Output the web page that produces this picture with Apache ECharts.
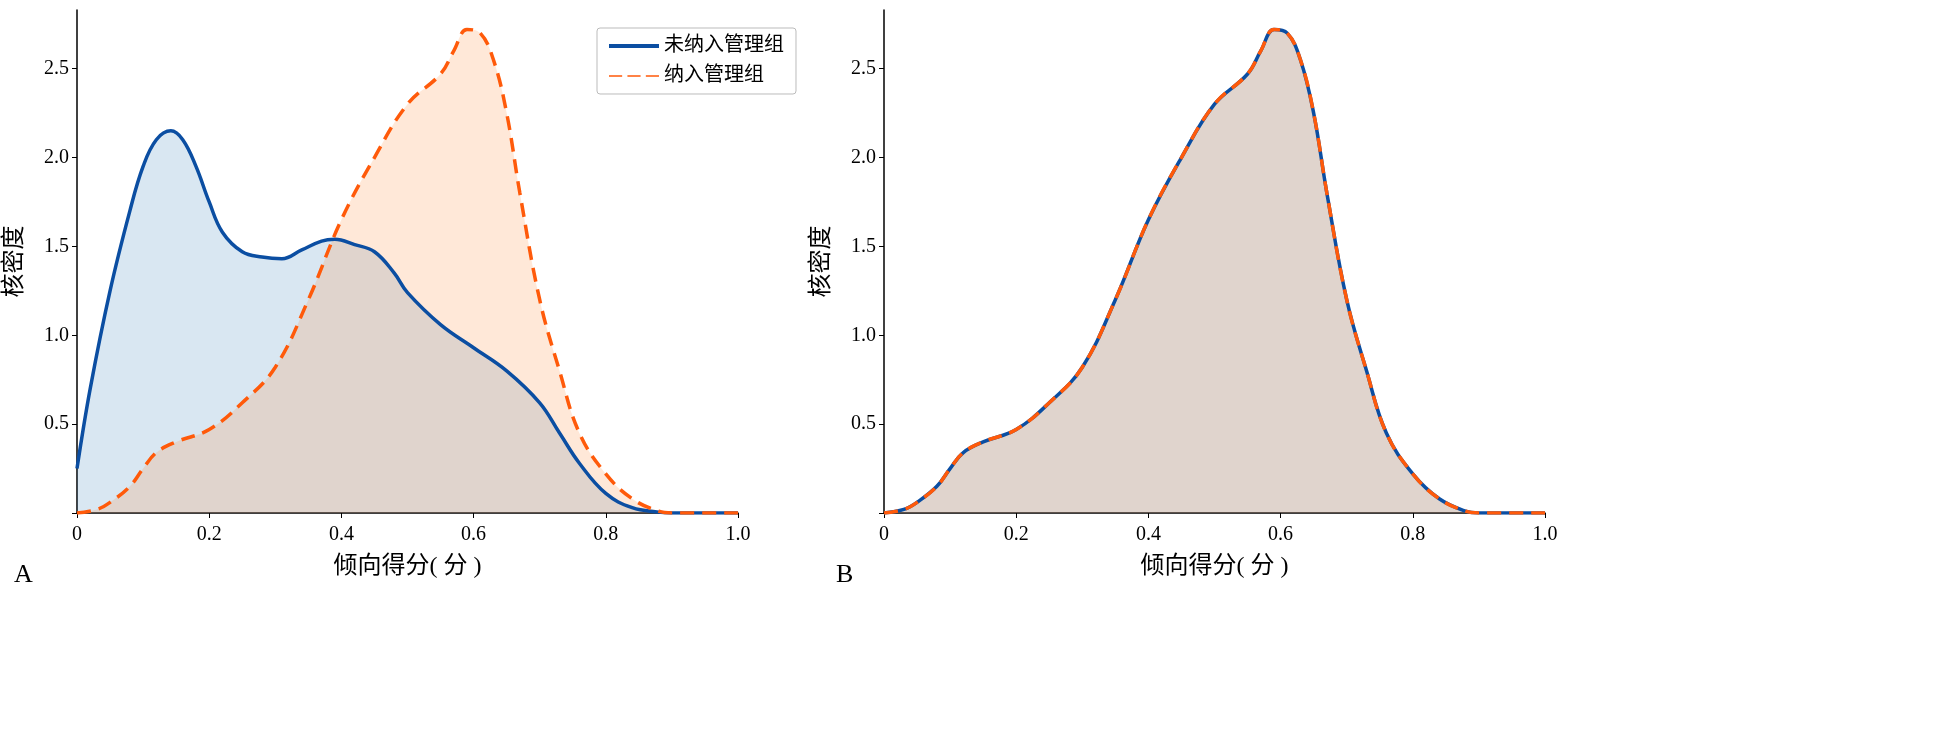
<!DOCTYPE html>
<html>
<head>
<meta charset="utf-8">
<script src="https://cdn.jsdelivr.net/npm/echarts@6/dist/echarts.min.js"></script>
<style>
  * { margin: 0; padding: 0 }
  html, body { width: 100%; height: 100%; background: #fff; }
  #main { width: 1952px; height: 739px; }
</style>
</head>
<body>
<div id="main"></div>
<script>
// 倾向得分 -> 核密度
var unmanaged = [
  [0, 0.25], [0.02, 0.7], [0.05, 1.25], [0.08, 1.7], [0.1, 1.95], [0.12, 2.1], [0.142, 2.15],
  [0.16, 2.1], [0.18, 1.95], [0.2, 1.75], [0.22, 1.58], [0.25, 1.47], [0.28, 1.44], [0.31, 1.43],
  [0.34, 1.48], [0.37, 1.53], [0.39, 1.54], [0.42, 1.51], [0.45, 1.47], [0.48, 1.35], [0.5, 1.24],
  [0.55, 1.06], [0.6, 0.93], [0.65, 0.8], [0.7, 0.62], [0.73, 0.45], [0.76, 0.28], [0.8, 0.11],
  [0.84, 0.03], [0.88, 0.005], [0.9, 0], [1.0, 0]
];
var managed = [
  [0, 0], [0.03, 0.02], [0.05, 0.06], [0.08, 0.15], [0.1, 0.25], [0.12, 0.34], [0.15, 0.4],
  [0.2, 0.47], [0.25, 0.62], [0.3, 0.82], [0.35, 1.2], [0.4, 1.65], [0.45, 2.0], [0.5, 2.3],
  [0.55, 2.47], [0.57, 2.6], [0.59, 2.72], [0.61, 2.7], [0.63, 2.55], [0.65, 2.25], [0.67, 1.8],
  [0.7, 1.2], [0.73, 0.8], [0.76, 0.45], [0.8, 0.22], [0.84, 0.08], [0.88, 0.01], [0.9, 0], [1.0, 0]
];
var xTicks = ['0', '0.2', '0.4', '0.6', '0.8', '1.0'];
var yTicks = ['', '0.5', '1.0', '1.5', '2.0', '2.5'];

var BLUE = '#0b4ea2', ORANGE = '#ff5a0a';
var font = "'Liberation Serif', 'Noto Sans CJK SC', serif";

function xAxis(i) {
  return {
    type: 'value', gridIndex: i, min: 0, max: 1, interval: 0.2,
    name: '倾向得分( 分 )', nameLocation: 'middle', nameGap: 42,
    nameTextStyle: { fontSize: 24, color: '#000', fontFamily: font },
    axisLine: { lineStyle: { color: '#000', width: 1.5 } },
    axisTick: { lineStyle: { color: '#000' }, length: 5 },
    axisLabel: { fontSize: 20, color: '#000', fontFamily: font, margin: 12,
      formatter: function (v) { return xTicks[Math.round(v * 5)]; } },
    splitLine: { show: false }
  };
}
function yAxis(i) {
  return {
    type: 'value', gridIndex: i, min: 0, max: 2.83, interval: 0.5,
    name: '核密度', nameLocation: 'middle', nameGap: 50,
    nameTextStyle: { fontSize: 24, color: '#000', fontFamily: font },
    axisLine: { show: true, lineStyle: { color: '#000', width: 1.5 } },
    axisTick: { show: true, lineStyle: { color: '#000' }, length: 5 },
    axisLabel: { fontSize: 20, color: '#000', fontFamily: font, showMaxLabel: false,
      formatter: function (v) { return yTicks[Math.round(v * 2)] || ''; } },
    splitLine: { show: false }
  };
}

var chart = echarts.init(document.getElementById('main'));
chart.setOption({
  animation: false,
  grid: [
    { left: 77, right: 1214, top: 10, bottom: 226 },
    { left: 884, right: 407, top: 10, bottom: 226 }
  ],
  xAxis: [xAxis(0), xAxis(1)],
  yAxis: [yAxis(0), yAxis(1)],
  legend: {
    left: 597, top: 28, orient: 'vertical', itemWidth: 50, itemHeight: 4, itemGap: 10,
    padding: [8, 12], borderColor: '#bbb', borderWidth: 1, borderRadius: 3,
    textStyle: { fontSize: 20, color: '#000', fontFamily: font },
    data: [
      { name: '未纳入管理组', icon: 'rect' },
      { name: '纳入管理组', icon: 'path://M0,0H10V1H0Z M14,0H24V1H14Z M28,0H38V1H28Z' }
    ]
  },
  graphic: [
    { type: 'text', left: 14, top: 562, style: { text: 'A', fontSize: 26, fontFamily: font, fill: '#000' } },
    { type: 'text', left: 836, top: 562, style: { text: 'B', fontSize: 26, fontFamily: font, fill: '#000' } }
  ],
  series: [
    { name: '未纳入管理组', type: 'line', xAxisIndex: 0, yAxisIndex: 0, data: unmanaged, smooth: 0.4,
      symbol: 'none', lineStyle: { color: BLUE, width: 3.5 }, itemStyle: { color: BLUE },
      areaStyle: { color: 'rgba(30,110,180,0.24)' } },
    { name: '纳入管理组', type: 'line', xAxisIndex: 0, yAxisIndex: 0, data: managed, smooth: 0.4,
      symbol: 'none', lineStyle: { color: ORANGE, width: 3.5, type: [14, 8] }, itemStyle: { color: ORANGE },
      areaStyle: { color: 'rgba(255,130,40,0.26)' } },
    { name: 'B-未纳入', type: 'line', xAxisIndex: 1, yAxisIndex: 1, data: managed, smooth: 0.4,
      symbol: 'none', lineStyle: { color: BLUE, width: 3.5 },
      areaStyle: { color: 'rgba(30,110,180,0.24)' } },
    { name: 'B-纳入', type: 'line', xAxisIndex: 1, yAxisIndex: 1, data: managed, smooth: 0.4,
      symbol: 'none', lineStyle: { color: ORANGE, width: 3.5, type: [14, 8] },
      areaStyle: { color: 'rgba(255,130,40,0.26)' } }
  ]
});
</script>
</body>
</html>
